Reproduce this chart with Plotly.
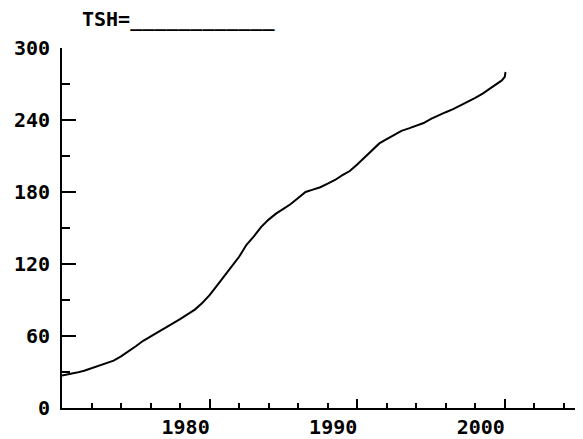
import plotly.graph_objects as go

# Data
years = [1970.0, 1970.5, 1971.0, 1971.5, 1972.0, 1972.5, 1973.0, 1973.5, 1974.0, 1974.5,
         1975.0, 1975.5, 1976.0, 1976.5, 1977.0, 1977.5, 1978.0, 1978.5, 1979.0, 1979.5,
         1980.0, 1980.5, 1981.0, 1981.5, 1982.0, 1982.5, 1983.0, 1983.5, 1984.0, 1984.5,
         1985.0, 1985.5, 1986.0, 1986.5, 1987.0, 1987.5, 1988.0, 1988.5, 1989.0, 1989.5,
         1990.0, 1990.5, 1991.0, 1991.5, 1992.0, 1992.5, 1993.0, 1993.5, 1994.0, 1994.5,
         1995.0, 1995.5, 1996.0, 1996.5, 1997.0, 1997.5, 1998.0, 1998.5, 1999.0, 1999.5,
         1999.8, 2000.0, 2000.05]
tsh = [27, 28, 29.5, 31, 33, 35, 37, 39.5, 43, 47,
       51.5, 56, 59.5, 63, 66.5, 70, 74, 78, 82, 87.5,
       94, 102, 110.5, 118, 126, 136, 143, 151, 157, 162,
       166, 170, 175, 180, 182, 184, 187, 190, 194, 197.5,
       203, 209, 215, 220.5, 224, 227.5, 231, 233, 235.5, 237.5,
       241, 244, 246.5, 249, 252, 255, 258.5, 262, 266.5, 270.5,
       273, 276, 280]

x_major = [1980, 1990, 2000]
x_minor = [1972, 1974, 1976, 1978, 1982, 1984, 1986, 1988, 1992, 1994, 1996, 1998, 2002, 2004]
y_major = [0, 60, 120, 180, 240, 300]
y_minor = [30, 90, 150, 210, 270]
title_text = "TSH=" + "_" * 12

FONT = dict(family="DejaVu Sans Mono", size=20, weight="bold", color="black")

# the page body adds an 8px offset; the figure is sized so the plot lands where the reference has it
W, H = 575, 431
ML, MT, MB = 54, 40, 31
plot_h = H - MT - MB

fig = go.Figure()
fig.add_trace(go.Scatter(x=years, y=tsh, mode="lines",
                         line=dict(color="black", width=2), showlegend=False,
                         hoverinfo="skip"))

fig.update_layout(
    width=W, height=H, autosize=False,
    margin=dict(l=ML, r=0, t=MT, b=MB, pad=0),
    paper_bgcolor="white", plot_bgcolor="white",
    xaxis=dict(range=[1970, 2005.3], showline=True, linecolor="black", linewidth=2,
               showgrid=False, zeroline=False,
               tickmode="array", tickvals=x_major, ticktext=[str(v) for v in x_major],
               ticks="inside", ticklen=9, tickwidth=2, tickcolor="black",
               tickfont=FONT, ticklabelshift=-24, ticklabelstandoff=0,
               minor=dict(tickmode="array", tickvals=x_minor, ticks="inside",
                          ticklen=5, tickwidth=2, tickcolor="black", showgrid=False)),
    yaxis=dict(range=[0, 300], showline=True, linecolor="black", linewidth=2,
               showgrid=False, zeroline=False,
               tickmode="array", tickvals=y_major, ticktext=[str(v) for v in y_major],
               ticks="inside", ticklen=14, tickwidth=2, tickcolor="black",
               tickfont=FONT, ticklabelstandoff=6,
               minor=dict(tickmode="array", tickvals=y_minor, ticks="inside",
                          ticklen=8, tickwidth=2, tickcolor="black", showgrid=False)),
    annotations=[dict(text=title_text, xref="paper", yref="paper",
                      x=(72 - ML) / (W - ML), y=(plot_h + 29) / plot_h,
                      xanchor="left", yanchor="middle", showarrow=False,
                      font=FONT)],
)

fig.write_html("out.html")
